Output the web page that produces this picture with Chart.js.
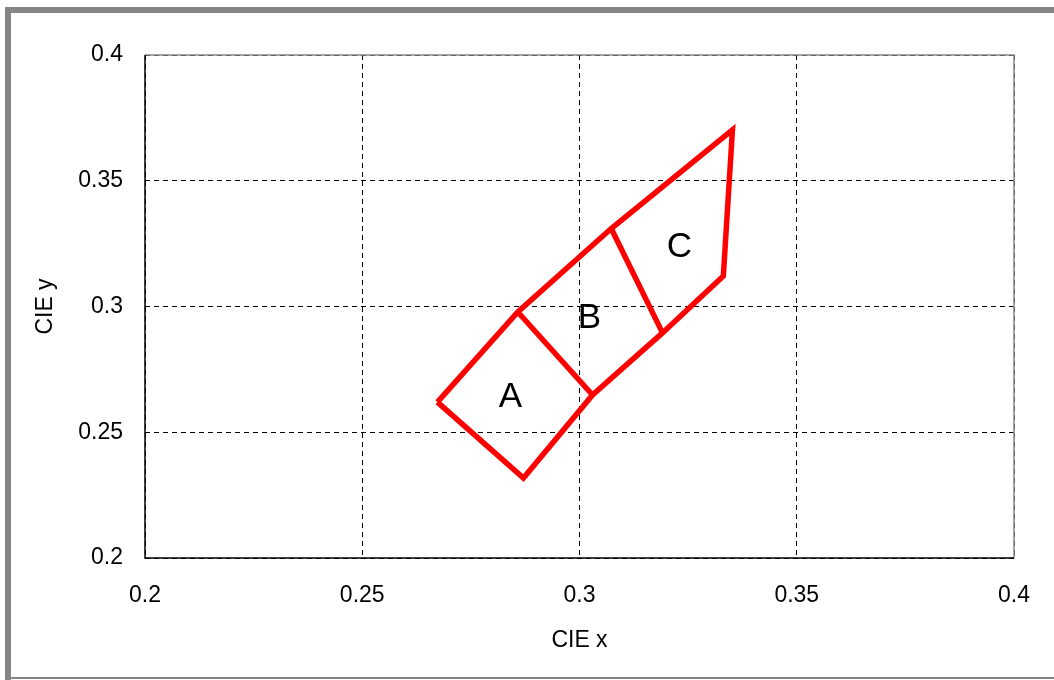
<!DOCTYPE html>
<html>
<head>
<meta charset="utf-8">
<script src="https://cdn.jsdelivr.net/npm/chart.js@4/dist/chart.umd.min.js"></script>
<style>
  html, body { margin: 0; padding: 0; background: #fff; }
  #wrap { width: 1054px; height: 680px; position: relative; }
</style>
</head>
<body>
<div id="wrap"><canvas id="cie"></canvas></div>
<script>
// outline of the three regions, walked around the outside
const outlineX = [0.2673, 0.2858, 0.3073, 0.3352, 0.3331, 0.3191, 0.3030, 0.2871, 0.2673];
const outlineY = [0.2620, 0.2978, 0.3310, 0.3702, 0.3121, 0.2895, 0.2648, 0.2318, 0.2620];
// dividers A|B and B|C
const splitABx = [0.2858, 0.3030];
const splitABy = [0.2978, 0.2648];
const splitBCx = [0.3073, 0.3191];
const splitBCy = [0.3310, 0.2895];
// region labels
const regionNames = ['A', 'B', 'C'];
const regionX = [0.2841, 0.3023, 0.3230];
const regionY = [0.2640, 0.2954, 0.3237];

const xTicks = [0.2, 0.25, 0.3, 0.35, 0.4];
const yTicks = [0.2, 0.25, 0.3, 0.35, 0.4];

function pts(xs, ys) {
    return xs.map((x, i) => ({ x: x, y: ys[i] }));
}

const FONT = '"Liberation Sans", Arial, sans-serif';

const framePlugin = {
    id: 'frame',
    beforeDraw(chart) {
        const c = chart.ctx;
        c.save();
        c.fillStyle = '#fff';
        c.fillRect(0, 0, chart.width, chart.height);
        c.strokeStyle = '#858585';
        c.lineWidth = 6;
        c.beginPath();
        c.moveTo(8, 680);
        c.lineTo(8, 10);
        c.lineTo(1060, 10);
        c.stroke();
        c.lineWidth = 2;
        c.beginPath();
        c.moveTo(8, 678);
        c.lineTo(1054, 678);
        c.stroke();
        c.restore();
    },
    afterDatasetsDraw(chart) {
        const c = chart.ctx;
        const a = chart.chartArea;
        c.save();
        c.lineWidth = 1.5;
        c.strokeStyle = '#888';
        c.beginPath();
        c.moveTo(a.left, a.top);
        c.lineTo(a.right, a.top);
        c.lineTo(a.right, a.bottom);
        c.stroke();
        c.strokeStyle = '#000';
        c.beginPath();
        c.moveTo(a.left, a.top);
        c.lineTo(a.left, a.bottom);
        c.lineTo(a.right, a.bottom);
        c.stroke();
        // region letters
        const xs = chart.scales.x, ys = chart.scales.y;
        c.fillStyle = '#000';
        c.font = '35px ' + FONT;
        c.textAlign = 'center';
        c.textBaseline = 'middle';
        regionNames.forEach((n, i) => {
            c.fillText(n, xs.getPixelForValue(regionX[i]), ys.getPixelForValue(regionY[i]));
        });
        c.restore();
    }
};

const lineStyle = {
    showLine: true,
    borderColor: '#ff0000',
    borderWidth: 5.5,
    pointRadius: 0,
    fill: false,
    tension: 0,
    borderJoinStyle: 'miter'
};

new Chart(document.getElementById('cie'), {
    type: 'scatter',
    data: {
        datasets: [
            Object.assign({ data: pts(outlineX, outlineY) }, lineStyle),
            Object.assign({ data: pts(splitABx, splitABy) }, lineStyle),
            Object.assign({ data: pts(splitBCx, splitBCy) }, lineStyle)
        ]
    },
    options: {
        responsive: true,
        maintainAspectRatio: false,
        animation: false,
        layout: { padding: { left: 28, top: 55, right: 38, bottom: 0 } },
        plugins: { legend: { display: false }, tooltip: { enabled: false } },
        scales: {
            x: {
                type: 'linear',
                min: 0.2, max: 0.4,
                afterBuildTicks: s => { s.ticks = xTicks.map(v => ({ value: v })); },
                afterFit: s => { s.height = 122; },
                border: { display: false, dash: [5, 4] },
                grid: { color: '#000', lineWidth: 1, drawTicks: false },
                ticks: {
                    padding: 24, color: '#000',
                    font: { family: FONT, size: 23 },
                    callback: v => String(v)
                },
                title: {
                    display: true, text: 'CIE x', color: '#000',
                    font: { family: FONT, size: 23 },
                    padding: { top: 0, bottom: 26 }
                }
            },
            y: {
                type: 'linear',
                min: 0.2, max: 0.4,
                afterBuildTicks: s => { s.ticks = yTicks.map(v => ({ value: v })); },
                afterFit: s => { s.width = 117; },
                border: { display: false, dash: [5, 4] },
                grid: { color: '#000', lineWidth: 1, drawTicks: false },
                ticks: {
                    padding: 22, color: '#000',
                    font: { family: FONT, size: 23 },
                    callback: v => String(v)
                },
                title: {
                    display: true, text: 'CIE y', color: '#000',
                    font: { family: FONT, size: 23 }
                }
            }
        }
    },
    plugins: [framePlugin]
});
</script>
</body>
</html>
